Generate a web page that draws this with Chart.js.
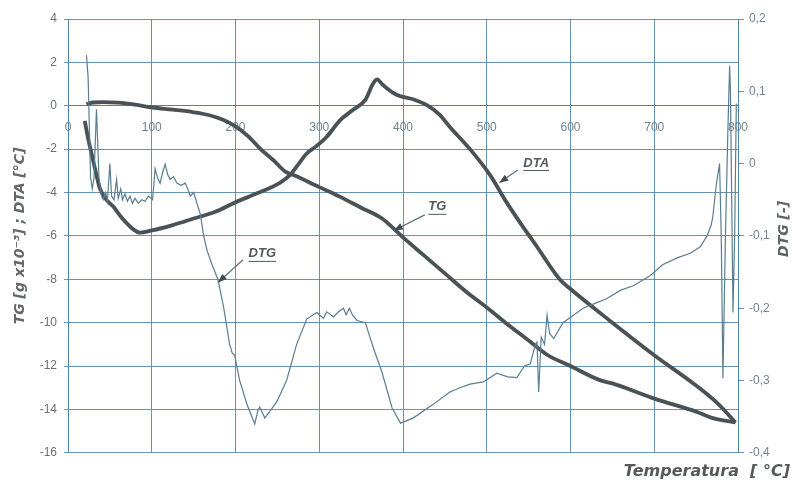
<!DOCTYPE html>
<html>
<head>
<meta charset="utf-8">
<script src="https://cdn.jsdelivr.net/npm/chart.js@4.4.1/dist/chart.umd.min.js"></script>
<style>
  html, body { margin: 0; padding: 0; background: #ffffff; }
  canvas { display: block; }
</style>
</head>
<body>
<canvas id="thermo" width="797" height="490"></canvas>
<script>
// Temperature axis ticks
const tempTicks = [0, 100, 200, 300, 400, 500, 600, 700, 800];

// TG – mass change [g x10^-3]
const tgTemp = [22, 30, 42, 60, 80, 101, 125, 150, 170, 185, 200, 215, 230, 245, 260, 270,
  300, 325, 350, 375, 400, 425, 450, 475, 500, 525, 550, 572, 600, 635, 650, 700, 750, 770, 797];
const tgMass = [0.08, 0.15, 0.17, 0.14, 0.05, -0.08, -0.18, -0.3, -0.45, -0.65, -0.95, -1.4, -2.0, -2.5, -3.05, -3.2,
  -3.75, -4.2, -4.7, -5.2, -6.07, -6.9, -7.73, -8.56, -9.3, -10.08, -10.82, -11.48, -12.0, -12.65, -12.8, -13.5, -14.1, -14.4, -14.6];

// DTA – temperature difference [°C]
const dtaTemp = [20, 24, 29, 34, 38, 45, 54, 65, 78, 86, 100, 125, 150, 175, 200, 225, 253, 265, 275, 285,
  297, 309, 325, 340, 355, 364, 369, 375, 381, 393, 412, 428, 444, 456, 480, 504, 522, 540, 560, 587,
  600, 650, 700, 750, 775, 797];
const dtaValue = [-0.7, -1.5, -2.35, -3.2, -3.8, -4.3, -4.65, -5.2, -5.7, -5.85, -5.75, -5.5, -5.2, -4.9, -4.45, -4.05, -3.55, -3.2, -2.7, -2.2,
  -1.85, -1.43, -0.66, -0.2, 0.27, 1.0, 1.22, 1.0, 0.8, 0.5, 0.3, 0.04, -0.42, -0.98, -2.0, -3.2, -4.35, -5.4, -6.5, -8.0,
  -8.45, -10.0, -11.5, -12.9, -13.7, -14.6];

// DTG – derivative of mass loss [-]
const dtgTemp = [22, 24, 27, 29, 31, 34, 37, 40, 42, 45, 47, 50, 52, 55, 58, 60, 63, 65, 68, 71, 74, 77, 80, 84, 88, 92, 96,
  101, 104, 107, 110, 113, 116, 119, 122, 126, 130, 135, 140, 143, 146, 150, 154, 158, 162, 166, 172, 179, 186, 193, 196, 199,
  205, 214, 223, 227, 229, 235, 249, 261, 273, 285, 297, 305, 309, 317, 323, 329, 332, 336, 340, 345, 355, 365, 375, 387, 397,
  412, 436, 456, 468, 480, 496, 512, 525, 536, 545, 552, 558, 560, 562, 565, 569, 572, 575, 580, 591, 603, 615, 630, 643, 660,
  675, 695, 710, 728, 743, 755, 763, 768, 770, 773, 775, 778, 780, 782, 785, 788, 790, 791, 794, 796, 798];
const dtgValue = [0.15, 0.12, -0.02, -0.035, -0.02, 0.075, -0.02, -0.045, -0.05, -0.04, -0.052, 0.0, -0.045, -0.05, -0.022, -0.048,
  -0.035, -0.05, -0.042, -0.052, -0.045, -0.055, -0.048, -0.055, -0.05, -0.052, -0.045,
  -0.05, -0.007, -0.02, -0.027, -0.012, -0.001, -0.015, -0.022, -0.018, -0.027, -0.03, -0.027, -0.035, -0.045, -0.04, -0.055,
  -0.07, -0.1, -0.12, -0.14, -0.16, -0.2, -0.25, -0.262, -0.265,
  -0.3, -0.334, -0.36, -0.34, -0.337, -0.352, -0.33, -0.3, -0.25, -0.215, -0.206, -0.214, -0.205, -0.212, -0.205, -0.2, -0.209,
  -0.2, -0.21, -0.217, -0.22, -0.256, -0.289, -0.338, -0.359,
  -0.352, -0.333, -0.316, -0.31, -0.305, -0.302, -0.29, -0.295, -0.296, -0.28, -0.277, -0.25, -0.247, -0.316, -0.24, -0.25,
  -0.21, -0.235, -0.242, -0.22, -0.21, -0.2, -0.193, -0.187, -0.175,
  -0.169, -0.155, -0.14, -0.13, -0.124, -0.115, -0.1, -0.085, -0.073, -0.04, -0.022, 0.0, -0.1, -0.297, -0.1, 0.05, 0.135, 0.1,
  -0.206, -0.1, 0.083];

// Curve labels with arrows, in data units of the left axis
const curveNotes = [
  { text: 'DTA', at: [559, -2.64], from: [537, -2.96], to: [515, -3.55] },
  { text: 'TG',  at: [441, -4.66], from: [426, -5.03], to: [389, -5.75] },
  { text: 'DTG', at: [232, -6.83], from: [209, -7.1],  to: [179, -8.15] }
];

const toPoints = (xs, ys) => xs.map((x, i) => ({ x: x, y: ys[i] }));

const gridColor = 'rgba(78, 128, 165, 0.85)';
const curveColor = '#4a5255';
const thinColor = '#5a7d90';
const textColor = '#6b6f72';
const titleFamily = "'DejaVu Sans', 'Liberation Sans', sans-serif";

Chart.defaults.font.family = "'Liberation Sans', Arial, sans-serif";

// Arrowed labels on the curves and the right axis title
const notesPlugin = {
  id: 'curveNotes',
  afterDatasetsDraw(chart) {
    const { ctx, scales } = chart;
    const px = v => scales.x.getPixelForValue(v);
    const py = v => scales.y.getPixelForValue(v);
    ctx.save();
    curveNotes.forEach(n => {
      const tx = px(n.at[0]), ty = py(n.at[1]);
      ctx.font = "bold italic 13px 'Liberation Sans', Arial, sans-serif";
      ctx.fillStyle = '#53595c';
      ctx.textAlign = 'center';
      ctx.textBaseline = 'middle';
      ctx.fillText(n.text, tx, ty);
      const w = ctx.measureText(n.text).width;
      ctx.strokeStyle = '#53595c';
      ctx.lineWidth = 1;
      ctx.beginPath();
      ctx.moveTo(tx - w / 2, ty + 7.5);
      ctx.lineTo(tx + w / 2, ty + 7.5);
      ctx.stroke();
      // arrow
      const x1 = px(n.from[0]), y1 = py(n.from[1]);
      const x2 = px(n.to[0]), y2 = py(n.to[1]);
      ctx.strokeStyle = '#5a7080';
      ctx.lineWidth = 1.2;
      ctx.beginPath();
      ctx.moveTo(x1, y1);
      ctx.lineTo(x2, y2);
      ctx.stroke();
      const a = Math.atan2(y2 - y1, x2 - x1);
      const L = 9, H = 3.5;
      ctx.fillStyle = '#444a4d';
      ctx.beginPath();
      ctx.moveTo(x2, y2);
      ctx.lineTo(x2 - L * Math.cos(a) + H * Math.sin(a), y2 - L * Math.sin(a) - H * Math.cos(a));
      ctx.lineTo(x2 - L * Math.cos(a) - H * Math.sin(a), y2 - L * Math.sin(a) + H * Math.cos(a));
      ctx.closePath();
      ctx.fill();
    });
    // right axis title, reading upwards
    const area = chart.chartArea;
    ctx.translate(784, (area.top + area.bottom) / 2 - 7);
    ctx.rotate(-Math.PI / 2);
    ctx.font = 'bold italic 14px ' + titleFamily;
    ctx.fillStyle = '#5f6467';
    ctx.textAlign = 'center';
    ctx.textBaseline = 'middle';
    ctx.fillText('DTG [-]', 0, 0);
    ctx.restore();
  }
};

new Chart(document.getElementById('thermo'), {
  type: 'line',
  data: {
    datasets: [
      {
        label: 'DTG',
        data: toPoints(dtgTemp, dtgValue),
        yAxisID: 'y2',
        borderColor: thinColor,
        borderWidth: 1.2,
        tension: 0,
        pointRadius: 0
      },
      {
        label: 'TG',
        data: toPoints(tgTemp, tgMass),
        yAxisID: 'y',
        borderColor: curveColor,
        borderWidth: 3.8,
        cubicInterpolationMode: 'monotone',
        pointRadius: 0
      },
      {
        label: 'DTA',
        data: toPoints(dtaTemp, dtaValue),
        yAxisID: 'y',
        borderColor: curveColor,
        borderWidth: 3.8,
        cubicInterpolationMode: 'monotone',
        pointRadius: 0
      }
    ]
  },
  options: {
    responsive: false,
    animation: false,
    devicePixelRatio: 1,
    layout: { padding: { top: 19, left: 0, right: 7, bottom: 0 } },
    plugins: {
      legend: { display: false },
      tooltip: { enabled: false },
      title: {
        display: true,
        position: 'bottom',
        align: 'end',
        text: 'Temperatura  [ °C]',
        color: '#55595c',
        font: { family: titleFamily, size: 16, weight: 'bold', style: 'italic' },
        padding: { top: 9, bottom: 9 }
      }
    },
    scales: {
      x: {
        type: 'linear',
        min: 0,
        max: 800,
        position: { y: 0 },
        afterBuildTicks: s => { s.ticks = tempTicks.map(v => ({ value: v })); },
        ticks: { color: '#6f8493', font: { size: 12 }, padding: 15 },
        grid: { color: gridColor, lineWidth: 1, drawTicks: false },
        border: { display: true, color: gridColor }
      },
      y: {
        position: 'left',
        min: -16,
        max: 4,
        ticks: { stepSize: 2, color: textColor, font: { size: 12 }, padding: 7 },
        grid: { color: gridColor, lineWidth: 1, tickLength: 4 },
        border: { display: true, color: gridColor },
        title: {
          display: true,
          text: 'TG [g x10⁻³] ; DTA [°C]',
          color: '#63676a',
          font: { family: titleFamily, size: 14, weight: 'bold', style: 'italic' },
          padding: { top: 12, bottom: 0 }
        },
        afterFit: s => { s.width = 68; }
      },
      y2: {
        position: 'right',
        min: -0.4,
        max: 0.2,
        ticks: {
          stepSize: 0.1,
          color: '#6f8493',
          font: { size: 12 },
          padding: 5,
          callback: v => (Math.abs(v) < 1e-9 ? '0' : v.toFixed(1).replace('.', ','))
        },
        grid: { drawOnChartArea: false, color: gridColor, tickLength: 6 },
        border: { display: true, color: gridColor },
        afterFit: s => { s.width = 52; }
      }
    }
  },
  plugins: [notesPlugin]
});
</script>
</body>
</html>
